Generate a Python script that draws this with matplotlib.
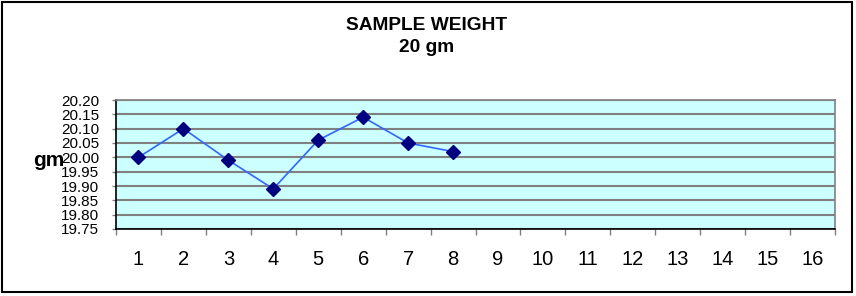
import matplotlib
matplotlib.use("Agg")
import matplotlib.pyplot as plt
import matplotlib.patches as mpatches
import numpy as np

SAMPLES = list(range(1, 17))
WEIGHTS = [20.00, 20.10, 19.99, 19.89, 20.06, 20.14, 20.05, 20.02]
Y_TICKS = [19.75, 19.80, 19.85, 19.90, 19.95, 20.00, 20.05, 20.10, 20.15, 20.20]

plt.rcParams["font.family"] = ["Liberation Sans", "DejaVu Sans"]

fig = plt.figure(figsize=(8.56, 2.96), dpi=100)
ax = fig.add_axes([116 / 856, 1 - 229 / 296, 719 / 856, 129 / 296])
ax.set_facecolor("#CCFFFF")

x = np.arange(1, len(WEIGHTS) + 1)
ax.plot(x, WEIGHTS, color="#3366FF", linewidth=1.2, marker="D",
        markersize=7, markerfacecolor="#000080", markeredgecolor="#000080",
        zorder=3)

ax.set_xlim(0.5, len(SAMPLES) + 0.5)
ax.set_ylim(Y_TICKS[0], Y_TICKS[-1])

# category axis: tick marks between categories, labels centred on them
ax.set_xticks(np.arange(0.5, len(SAMPLES) + 1, 1.0))
ax.set_xticklabels([])
ax.set_xticks(SAMPLES, minor=True)
ax.set_xticklabels([str(s) for s in SAMPLES], minor=True, fontsize=14.5)
ax.tick_params(axis="x", which="major", length=4.3, color="#808080", width=1)
ax.tick_params(axis="x", which="minor", length=0, pad=15)

ax.set_yticks(Y_TICKS)
ax.set_yticklabels([f"{v:.2f}" for v in Y_TICKS], fontsize=11)
ax.tick_params(axis="y", length=3, color="#808080", width=1, pad=9)
ax.yaxis.grid(True, color="#808080", linewidth=1.5)
ax.set_axisbelow(True)

ax.spines["left"].set_color("black")
ax.spines["bottom"].set_color("black")
ax.spines["top"].set_color("#808080")
ax.spines["right"].set_color("#808080")
for sp in ax.spines.values():
    sp.set_linewidth(1.2)

fig.text(33 / 856, 1 - 166 / 296, "gm", fontsize=15, fontweight="bold",
         ha="left", va="baseline")
fig.text(427 / 856, 1 - 25 / 296, "SAMPLE WEIGHT", fontsize=13.8,
         fontweight="bold", ha="center", va="center")
fig.text(427 / 856, 1 - 47 / 296, "20 gm", fontsize=13.8,
         fontweight="bold", ha="center", va="center")

fig.patches.append(mpatches.Rectangle((2 / 856, 4 / 296), 850 / 856, 290 / 296,
                                      transform=fig.transFigure, fill=False,
                                      edgecolor="black", linewidth=1.5))

fig.savefig("out.png", dpi=100)
